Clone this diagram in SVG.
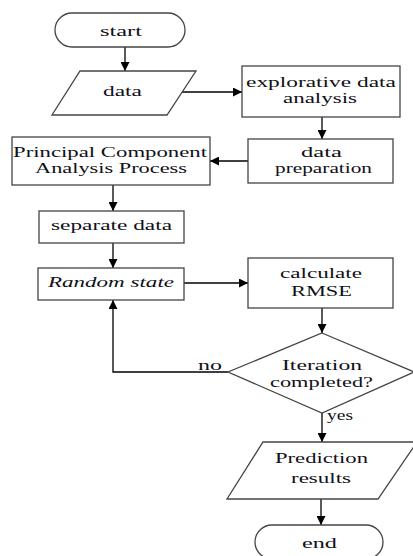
<svg xmlns="http://www.w3.org/2000/svg" width="413" height="556" viewBox="0 0 413 556">
<style>
.box{fill:#fff;stroke:#444;stroke-width:1.3}
.ln{fill:none;stroke:#000;stroke-width:1.3}
text{font-family:"Liberation Serif","DejaVu Serif","Times New Roman",serif;font-size:15px;fill:#101018;text-anchor:middle}
.it{font-style:italic}
</style>
<defs>
<marker id="ah" markerUnits="userSpaceOnUse" markerWidth="9" markerHeight="9" refX="9" refY="4.5" orient="auto">
<path d="M0,0 L9,4.5 L0,9 z" fill="#000"/>
</marker>
</defs>
<rect width="413" height="556" fill="#fff"/>
<g id="connectors">
<line class="ln" x1="125" y1="47" x2="125" y2="71" marker-end="url(#ah)"/>
<line class="ln" x1="175" y1="92" x2="242" y2="92" marker-end="url(#ah)"/>
<line class="ln" x1="322" y1="117" x2="322" y2="139" marker-end="url(#ah)"/>
<line class="ln" x1="248" y1="161" x2="210" y2="161" marker-end="url(#ah)"/>
<line class="ln" x1="113" y1="185" x2="113" y2="211" marker-end="url(#ah)"/>
<line class="ln" x1="113" y1="243" x2="113" y2="268" marker-end="url(#ah)"/>
<line class="ln" x1="184" y1="283" x2="248" y2="283" marker-end="url(#ah)"/>
<line class="ln" x1="322" y1="308" x2="322" y2="333" marker-end="url(#ah)"/>
<polyline class="ln" points="228,372 113,372 113,300" marker-end="url(#ah)"/>
<line class="ln" x1="322" y1="413" x2="322" y2="442" marker-end="url(#ah)"/>
<line class="ln" x1="321" y1="499" x2="321" y2="525" marker-end="url(#ah)"/>
<text x="210" y="370" textLength="24" lengthAdjust="spacingAndGlyphs">no</text>
<text x="340" y="420" textLength="26" lengthAdjust="spacingAndGlyphs">yes</text>
</g>
<g id="start">
<rect class="box" x="55" y="13" width="130" height="34" rx="17"/>
<text x="121" y="36" textLength="42" lengthAdjust="spacingAndGlyphs">start</text>
</g>
<g id="data">
<polygon class="box" points="80,71 196,71 167,115 52,115"/>
<text x="122.5" y="96" textLength="39" lengthAdjust="spacingAndGlyphs">data</text>
</g>
<g id="eda">
<rect class="box" x="242" y="66" width="158" height="51"/>
<text x="321" y="87" textLength="150" lengthAdjust="spacingAndGlyphs">explorative data</text>
<text x="320" y="103" textLength="74" lengthAdjust="spacingAndGlyphs">analysis</text>
</g>
<g id="prep">
<rect class="box" x="248" y="139" width="145" height="44"/>
<text x="321.5" y="157" textLength="41" lengthAdjust="spacingAndGlyphs">data</text>
<text x="323.5" y="173" textLength="97" lengthAdjust="spacingAndGlyphs">preparation</text>
</g>
<g id="pca">
<rect class="box" x="12" y="137" width="198" height="48"/>
<text x="110" y="157" textLength="194" lengthAdjust="spacingAndGlyphs">Principal Component</text>
<text x="111" y="173" textLength="152" lengthAdjust="spacingAndGlyphs">Analysis Process</text>
</g>
<g id="separate">
<rect class="box" x="39" y="211" width="145" height="32"/>
<text x="111.5" y="230" textLength="121" lengthAdjust="spacingAndGlyphs">separate data</text>
</g>
<g id="random">
<rect class="box" x="38" y="268" width="146" height="32"/>
<text class="it" x="111" y="287" textLength="126" lengthAdjust="spacingAndGlyphs">Random state</text>
</g>
<g id="rmse">
<rect class="box" x="248" y="258" width="145" height="50"/>
<text x="321" y="278" textLength="82" lengthAdjust="spacingAndGlyphs">calculate</text>
<text x="321.5" y="296" textLength="61" lengthAdjust="spacingAndGlyphs">RMSE</text>
</g>
<g id="decision">
<polygon class="box" points="322,333 414,372 322,413 228,372"/>
<text x="322" y="370" textLength="80" lengthAdjust="spacingAndGlyphs">Iteration</text>
<text x="321.5" y="387" textLength="103" lengthAdjust="spacingAndGlyphs">completed?</text>
</g>
<g id="prediction">
<polygon class="box" points="263,442 417,442 378,499 227,499"/>
<text x="321.5" y="463" textLength="93" lengthAdjust="spacingAndGlyphs">Prediction</text>
<text x="321" y="483" textLength="60" lengthAdjust="spacingAndGlyphs">results</text>
</g>
<g id="end">
<rect class="box" x="255" y="525" width="128" height="34" rx="17"/>
<text x="319.5" y="548" textLength="35" lengthAdjust="spacingAndGlyphs">end</text>
</g>
</svg>
